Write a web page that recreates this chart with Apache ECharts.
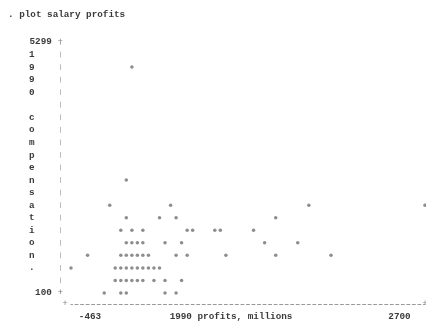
<!DOCTYPE html>
<html><head><meta charset="utf-8">
<script src="https://cdn.jsdelivr.net/npm/echarts@6/dist/echarts.min.js"></script>
<style>html,body{margin:0;padding:0;background:#fff}#c{width:426px;height:325px}</style>
</head><body><div id="c"></div>
<script>
const titleText = '. plot salary profits';
const yTitle = '1990 compensation.';
const xTitle = '1990 profits, millions';
const xTicks = [-463, 2700];
const yTicks = [100, 5299];
const profits = [
  81,
  31,
  -117, 427, 1662, 2700,
  31, 328, 476, 1366,
  -18, 81, 179, 575, 624, 822, 871, 1168,
  31, 81, 130, 179, 377, 525, 1267, 1563,
  -315, -18, 31, 81, 130, 179, 229, 476, 575, 921, 1366, 1860,
  -463, -68, -18, 31, 81, 130, 179, 229, 278, 328,
  -68, -18, 31, 81, 130, 179, 278, 377, 525,
  -166, -18, 31, 377, 476
];
const salary = [
  4779,
  2440,
  1920, 1920, 1920, 1920,
  1660, 1660, 1660, 1660,
  1400, 1400, 1400, 1400, 1400, 1400, 1400, 1400,
  1140, 1140, 1140, 1140, 1140, 1140, 1140, 1140,
  880, 880, 880, 880, 880, 880, 880, 880, 880, 880, 880, 880,
  620, 620, 620, 620, 620, 620, 620, 620, 620, 620,
  360, 360, 360, 360, 360, 360, 360, 360, 360,
  100, 100, 100, 100, 100
];

const MONO = '"Liberation Mono", "DejaVu Sans Mono", monospace';
const FS = 9.3;
const TXT = '#3a3a3a';
const pts = profits.map((p, i) => [p, salary[i]]);

const chart = echarts.init(document.getElementById('c'), null, {renderer: 'canvas'});
chart.setOption({
  backgroundColor: '#fff',
  animation: false,
  title: {
    text: titleText, left: 8, top: 10, padding: 0,
    textStyle: {fontFamily: MONO, fontSize: FS, fontWeight: 'bold', color: TXT}
  },
  grid: {left: 71, right: 1, top: 42, bottom: 32, containLabel: false, outerBoundsMode: 'none'},
  xAxis: {
    type: 'value', min: xTicks[0], max: xTicks[1], offset: 11,
    splitLine: {show: false}, axisTick: {show: false},
    axisLine: {show: true, onZero: false, lineStyle: {color: '#999', width: 1, type: [3, 2.53], dashOffset: 1.5}},
    axisLabel: {
      margin: 8, showMinLabel: true, showMaxLabel: true,
      fontFamily: MONO, fontSize: FS, fontWeight: 'bold', color: TXT,
      formatter: v => v === xTicks[0] ? '{mn|' + v + '}' : (v === xTicks[1] ? '{mx|' + v + '}' : ''),
      rich: {
        mn: {fontFamily: MONO, fontSize: FS, fontWeight: 'bold', color: TXT, padding: [0, 0, 0, 38]},
        mx: {fontFamily: MONO, fontSize: FS, fontWeight: 'bold', color: TXT, padding: [0, 51, 0, 0]}
      }
    },
    name: xTitle, nameLocation: 'middle', nameGap: 8, nameMoveOverlap: false,
    nameTextStyle: {fontFamily: MONO, fontSize: FS, fontWeight: 'bold', color: TXT, padding: [0, 34, 0, 0], verticalAlign: 'top'}
  },
  yAxis: {
    type: 'value', min: yTicks[0], max: yTicks[1], offset: 11,
    splitLine: {show: false}, axisTick: {show: false},
    axisLine: {show: true, onZero: false, lineStyle: {color: '#bbb', width: 1, type: [5, 7.55], dashOffset: 2.5}},
    axisLabel: {
      margin: -3, showMinLabel: true, showMaxLabel: true,
      fontFamily: MONO, fontSize: FS, fontWeight: 'bold', color: TXT,
      formatter: v => yTicks.includes(v) ? '{v|' + v + '} {p|+}' : '',
      rich: {
        v: {fontFamily: MONO, fontSize: FS, fontWeight: 'bold', color: TXT},
        p: {fontFamily: MONO, fontSize: FS, fontWeight: 'normal', color: '#888'}
      }
    }
  },
  graphic: [
    {type: 'text', left: 29, top: 48.5, silent: true,
     style: {text: yTitle.split('').join('\n'), fontFamily: MONO, fontSize: FS, fontWeight: 'bold',
             fill: TXT, lineHeight: 12.55}},
    {type: 'text', x: 65, y: 304, silent: true,
     style: {text: '+', fontFamily: MONO, fontSize: FS, fill: '#888', align: 'center', verticalAlign: 'middle'}},
    {type: 'text', x: 425, y: 304, silent: true,
     style: {text: '+', fontFamily: MONO, fontSize: FS, fill: '#888', align: 'center', verticalAlign: 'middle'}}
  ],
  series: [{
    type: 'scatter', data: pts, symbol: 'circle', symbolSize: 3.5, clip: false,
    itemStyle: {color: '#707070'}
  }]
});
</script>
</body></html>
